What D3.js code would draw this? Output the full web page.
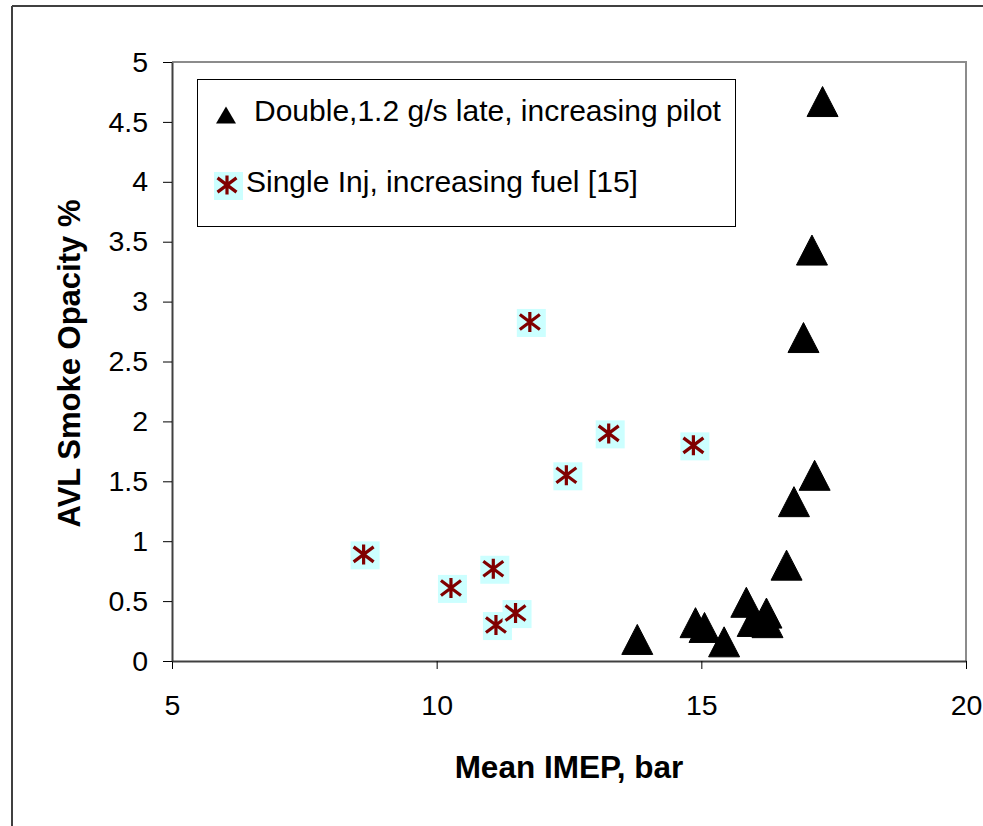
<!DOCTYPE html>
<html><head><meta charset="utf-8">
<script src="https://cdn.jsdelivr.net/npm/d3@7"></script>
<style>
body{margin:0;background:#fff}
svg{display:block}
text{font-family:"Liberation Sans",Arial,sans-serif;fill:#000}
</style>
</head><body>
<svg id="c" width="983" height="826"></svg>
<script>
// ---- data ----
const xTicks = [5, 10, 15, 20];
const yTicks = [0, 0.5, 1, 1.5, 2, 2.5, 3, 3.5, 4, 4.5, 5];
const seriesNames = ["Double,1.2 g/s late, increasing pilot", "Single Inj, increasing fuel [15]"];
const xTitle = "Mean IMEP, bar";
const yTitle = "AVL Smoke Opacity %";
// Double injection (triangles)
const doubleX = [13.79, 14.89, 15.06, 15.43, 15.85, 16.23, 15.97, 16.25, 16.61, 16.75, 17.14, 16.93, 17.09, 17.29];
const doubleY = [0.18, 0.32, 0.28, 0.16, 0.49, 0.40, 0.33, 0.32, 0.80, 1.33, 1.55, 2.70, 3.43, 4.67];
// Single injection (asterisks)
const singleX = [8.62, 10.27, 11.07, 11.12, 11.49, 11.76, 12.45, 13.25, 14.85];
const singleY = [0.89, 0.61, 0.77, 0.30, 0.40, 2.83, 1.55, 1.90, 1.80];

// ---- layout ----
const svg = d3.select("#c");
const L = 172, R = 966, T = 62, B = 661;
const x = d3.scaleLinear().domain([5, 20]).range([L, R]);
const y = d3.scaleLinear().domain([0, 5]).range([B, T]);

// outer frame (top & left edges visible)
svg.append("line").attr("x1", 12).attr("x2", 983).attr("y1", 6).attr("y2", 6)
  .attr("stroke", "#404040").attr("stroke-width", 2);
svg.append("line").attr("x1", 12).attr("x2", 12).attr("y1", 6).attr("y2", 826)
  .attr("stroke", "#404040").attr("stroke-width", 2);

// plot area border (top & right, grey)
svg.append("path").attr("d", `M${L},${T}H${R}V${B}`).attr("fill", "none")
  .attr("stroke", "#8c8c8c").attr("stroke-width", 2);

// axes
const xAxis = svg.append("g").attr("transform", `translate(0,${B})`)
  .call(d3.axisBottom(x).tickValues(xTicks).tickSize(8).tickSizeOuter(0).tickPadding(26).tickFormat(d => String(d)));
const yAxis = svg.append("g").attr("transform", `translate(${L},0)`)
  .call(d3.axisLeft(y).tickValues(yTicks).tickSize(9).tickSizeOuter(0).tickPadding(15).tickFormat(d => String(d)));
[xAxis, yAxis].forEach(g => {
  g.select(".domain").attr("stroke", "#404040").attr("stroke-width", 2);
  g.selectAll(".tick line").attr("stroke", "#000").attr("stroke-width", 1);
  g.selectAll(".tick text").attr("font-size", 28.5).attr("font-family", '"Liberation Sans",Arial,sans-serif').attr("fill", "#000");
});

// axis titles
svg.append("text").attr("x", (L + R) / 2).attr("y", 778).attr("text-anchor", "middle")
  .attr("font-size", 31.5).attr("font-weight", "bold").text(xTitle);
svg.append("text").attr("transform", `translate(80,${(T + B) / 2 + 2}) rotate(-90)`).attr("text-anchor", "middle")
  .attr("font-size", 31).attr("font-weight", "bold").text(yTitle);

// marker helpers
const triPath = (w, h) => `M0,${-h / 2}L${w / 2},${h / 2}L${-w / 2},${h / 2}Z`;
function asterisk(g, s) {
  g.append("rect").attr("x", -13).attr("y", -13).attr("width", 29).attr("height", 28).attr("fill", "#ccffff");
  g.append("path").attr("d", `M0,${-s}V${s}M${-s},${-s * 0.75}L${s},${s * 0.75}M${-s},${s * 0.75}L${s},${-s * 0.75}`)
    .attr("stroke", "#800000").attr("stroke-width", 3.2).attr("fill", "none");
}

// single injection markers
const singleData = singleX.map((v, i) => ({ x: v, y: singleY[i] }));
svg.append("g").selectAll("g").data(singleData).join("g")
  .attr("transform", d => `translate(${x(d.x)},${y(d.y)})`)
  .each(function () { asterisk(d3.select(this), 10); });

// double injection markers
const doubleData = doubleX.map((v, i) => ({ x: v, y: doubleY[i] }));
svg.append("g").selectAll("path").data(doubleData).join("path")
  .attr("transform", d => `translate(${x(d.x)},${y(d.y)})`)
  .attr("d", triPath(31, 30)).attr("fill", "#000").attr("stroke", "#000").attr("stroke-width", 1).attr("stroke-linejoin", "round");

// legend
const lg = svg.append("g");
lg.append("rect").attr("x", 197.5).attr("y", 79.5).attr("width", 538).attr("height", 147)
  .attr("fill", "#fff").attr("stroke", "#000").attr("stroke-width", 1);
lg.append("path").attr("transform", "translate(226,115)").attr("d", triPath(20, 17)).attr("fill", "#000");
lg.append("text").attr("x", 254).attr("y", 121).attr("font-size", 30).text(seriesNames[0]);
const la = lg.append("g").attr("transform", "translate(227,185)");
asterisk(la, 9.5);
lg.append("text").attr("x", 246).attr("y", 192).attr("font-size", 30).text(seriesNames[1]);
</script>
</body></html>
